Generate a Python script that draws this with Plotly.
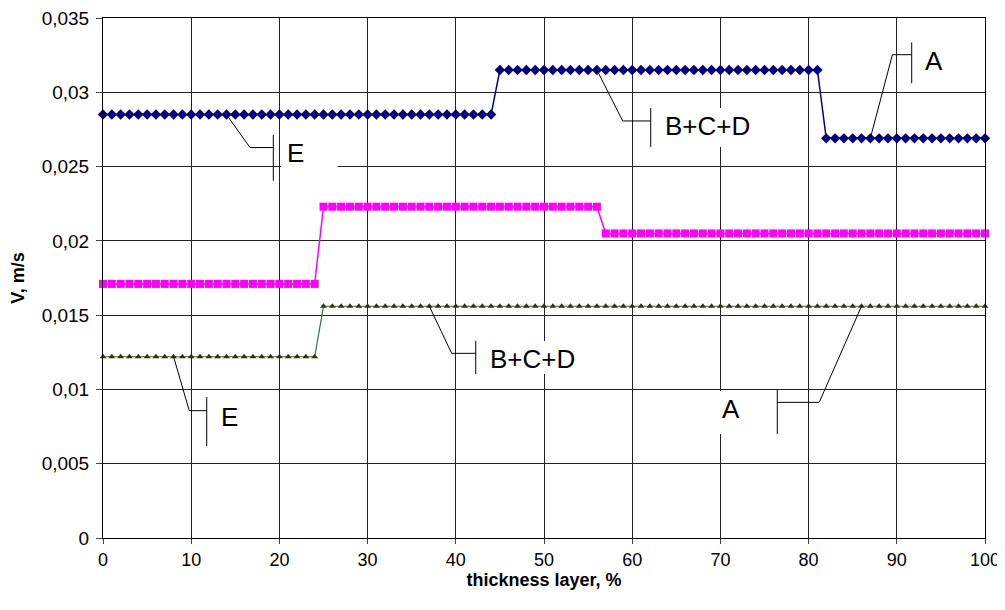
import plotly.graph_objects as go

# ---- data ----
x_pct = list(range(0, 101))
v_blue = [0.0285] * 45 + [0.0315] * 37 + [0.0269] * 19          # diamonds
v_magenta = [0.0171] * 25 + [0.0223] * 32 + [0.0205] * 44       # squares
v_olive = [0.0122] * 25 + [0.0156] * 76                         # triangles

y_tickvals = [0, 0.005, 0.01, 0.015, 0.02, 0.025, 0.03, 0.035]
y_ticktext = ["0", "0,005", "0,01", "0,015", "0,02", "0,025", "0,03", "0,035"]
x_tickvals = list(range(0, 101, 10))

# callouts: (series, index, elbow_x, elbow_y, bar_x, bar_y0, bar_y1, text, text_x, text_y, anchor, box x0,x1,y0,y1)
callouts = [
    (v_blue, 14, 16.67, 0.02628, 19.31, 0.02405, 0.02713, "E", 20.6, 0.02590, "left", (20.2, 26.6, 0.02405, 0.02713)),
    (v_blue, 56, 58.92, 0.02807, 62.10, 0.02632, 0.02894, "B+C+D", 63.5, 0.02775, "left", (62.2, 73.6, 0.02632, 0.02894)),
    (v_blue, 87, 89.50, 0.03253, 91.69, 0.03060, 0.03336, "A", 93.0, 0.03210, "left", (91.8, 99.8, 0.03060, 0.03336)),
    (v_olive, 37, 39.53, 0.01243, 42.26, 0.01104, 0.01326, "B+C+D", 43.6, 0.01205, "left", (42.4, 53.5, 0.01104, 0.01326)),
    (v_olive, 8, 9.78, 0.00857, 11.76, 0.00619, 0.00949, "E", 13.1, 0.00815, "left", (11.9, 15.5, 0.00619, 0.00949)),
    (v_olive, 86, 81.20, 0.00913, 76.45, 0.00700, 0.01001, "A", 71.2, 0.00868, "center", (67.7, 76.3, 0.00700, 0.00990)),
]

fig = go.Figure()
fig.add_trace(go.Scatter(x=x_pct, y=v_blue, mode="lines+markers",
                         line=dict(color="#000080", width=1.5),
                         marker=dict(symbol="diamond", size=8, color="#000080"),
                         showlegend=False, cliponaxis=False))
fig.add_trace(go.Scatter(x=x_pct, y=v_magenta, mode="lines+markers",
                         line=dict(color="#FF00FF", width=1.5),
                         marker=dict(symbol="square", size=8, color="#FF00FF"),
                         showlegend=False, cliponaxis=False))
fig.add_trace(go.Scatter(x=x_pct, y=v_olive, mode="lines+markers",
                         line=dict(color="#3A6B3A", width=1.2),
                         marker=dict(symbol="triangle-up", size=6, color="#333300"),
                         showlegend=False, cliponaxis=False))

shapes = []
annotations = []
for ser, idx, ex, ey, bx, by0, by1, txt, tx, ty, anc, box in callouts:
    shapes.append(dict(type="rect", xref="x", yref="y", x0=box[0], x1=box[1], y0=box[2], y1=box[3],
                       fillcolor="white", line=dict(width=0), layer="between"))
    shapes.append(dict(type="path", xref="x", yref="y",
                       path=f"M {x_pct[idx]},{ser[idx]} L {ex},{ey} L {bx},{ey}",
                       line=dict(color="black", width=1)))
    shapes.append(dict(type="line", xref="x", yref="y", x0=bx, x1=bx, y0=by0, y1=by1,
                       line=dict(color="black", width=1)))
    annotations.append(dict(x=tx, y=ty, xref="x", yref="y", text=txt, showarrow=False,
                            xanchor=anc, yanchor="middle",
                            font=dict(family="Liberation Sans, Arial", size=26, color="black")))

fig.update_layout(
    width=997, height=594,
    margin=dict(l=95, r=20, t=10, b=64),
    paper_bgcolor="white", plot_bgcolor="white",
    font=dict(family="Liberation Sans, Arial", size=18, color="black"),
    shapes=shapes, annotations=annotations,
    xaxis=dict(range=[0, 100], tickvals=x_tickvals, ticks="outside", ticklen=5,
               showgrid=True, gridcolor="#222222", gridwidth=1, automargin=False,
               showline=True, linecolor="black", mirror=True, zeroline=False,
               ticklabeloverflow="allow",
               title=dict(text="<b>thickness layer, %</b>", font=dict(size=18), standoff=4),
               tickfont=dict(size=18)),
    yaxis=dict(range=[0, 0.035], tickvals=y_tickvals, ticktext=y_ticktext,
               ticks="outside", ticklen=6, automargin=False, ticklabelstandoff=3,
               ticklabeloverflow="allow",
               showgrid=True, gridcolor="#222222", gridwidth=1,
               showline=True, linecolor="black", mirror=True, zeroline=False,
               title=dict(text="<b>V, m/s</b>", font=dict(size=18), standoff=14),
               tickfont=dict(size=19)),
)

fig.write_html("out.html")
